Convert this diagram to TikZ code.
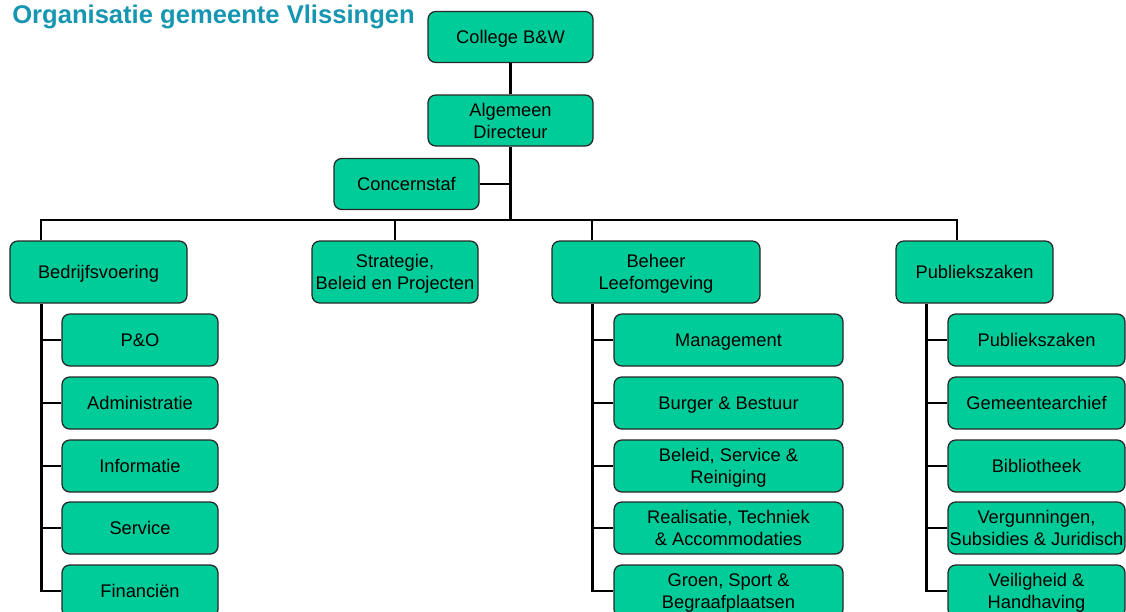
\documentclass[tikz,border=0pt]{standalone}
\usepackage{fontspec}
\setmainfont{Liberation Sans}
\usetikzlibrary{calc}
\definecolor{boxgreen}{RGB}{0,204,153}
\definecolor{titleteal}{RGB}{22,150,176}
\def\pxu{0.025cm}
\tikzset{
	unit/.style={draw=black!85, fill=boxgreen, rounded corners=5.5pt, line width=0.9pt, align=center, inner sep=0pt, font=\fontsize{13}{15.6}\selectfont},
	oneline/.style={text height=9.3pt, text depth=0pt},
	twoline/.style={text depth=0pt},
	bossbox/.style={unit, minimum width=165*\pxu, minimum height=51*\pxu},
	deptbox/.style={unit, minimum height=62*\pxu},
	subbox/.style={unit, minimum height=52*\pxu},
	link/.style={line width=1.5pt},
	spine/.style={line width=1.9pt}
}

\begin{document}
\begin{tikzpicture}[x=0.025cm, y=-0.025cm]
		%%%%% START %%%%%
		\useasboundingbox (0, 0) rectangle (1126, 612);
		
		\node[anchor=base west, inner sep=0pt, text=titleteal, font=\fontsize{18.2}{22}\selectfont\bfseries] (title) at (12, 23.3) {Organisatie gemeente Vlissingen};
		
		% top
		\node[bossbox, oneline] (college) at (510.5, 37) {College B\&W};
		\node[bossbox, twoline] (directeur) at (510.5, 120.5) {Algemeen\\Directeur};
		\node[unit, oneline, minimum width=145*\pxu, minimum height=51*\pxu] (staf) at (406.5, 184) {Concernstaf};
		
		% afdelingen
		\node[deptbox, oneline, minimum width=177*\pxu] (bedrijf) at (98.5, 272) {Bedrijfsvoering};
		\node[deptbox, twoline, minimum width=166*\pxu] (strategie) at (395, 272) {Strategie,\\Beleid en Projecten};
		\node[deptbox, twoline, minimum width=208*\pxu] (beheer) at (656, 272) {Beheer\\Leefomgeving};
		\node[deptbox, oneline, minimum width=157*\pxu] (publiek) at (974.5, 272) {Publiekszaken};
		
		% Bedrijfsvoering
		\node[subbox, oneline, minimum width=156*\pxu] (po) at (140, 340) {P\&O};
		\node[subbox, oneline, minimum width=156*\pxu] (adm) at (140, 403) {Administratie};
		\node[subbox, oneline, minimum width=156*\pxu] (inf) at (140, 466) {Informatie};
		\node[subbox, oneline, minimum width=156*\pxu] (serv) at (140, 528) {Service};
		\node[subbox, oneline, minimum width=156*\pxu] (fin) at (140, 591) {Financiën};
		
		% Beheer Leefomgeving
		\node[subbox, oneline, minimum width=229*\pxu] (man) at (728.5, 340) {Management};
		\node[subbox, oneline, minimum width=229*\pxu] (burg) at (728.5, 403) {Burger \& Bestuur};
		\node[subbox, twoline, minimum width=229*\pxu] (rein) at (728.5, 466) {Beleid, Service \&\\Reiniging};
		\node[subbox, twoline, minimum width=229*\pxu] (real) at (728.5, 528) {Realisatie, Techniek\\\& Accommodaties};
		\node[subbox, twoline, minimum width=229*\pxu] (groen) at (728.5, 591) {Groen, Sport \&\\Begraafplaatsen};
		
		% Publiekszaken
		\node[subbox, oneline, minimum width=177*\pxu] (pz) at (1036.5, 340) {Publiekszaken};
		\node[subbox, oneline, minimum width=177*\pxu] (arch) at (1036.5, 403) {Gemeentearchief};
		\node[subbox, oneline, minimum width=177*\pxu] (bib) at (1036.5, 466) {Bibliotheek};
		\node[subbox, twoline, minimum width=177*\pxu] (verg) at (1036.5, 528) {Vergunningen,\\Subsidies \& Juridisch};
		\node[subbox, twoline, minimum width=177*\pxu] (veil) at (1036.5, 591) {Veiligheid \&\\Handhaving};
		
		% lijnen
		\coordinate (bus) at (510.5, 220);
		\coordinate (bvdrop) at ($(bedrijf.north west)+(32, 0)$);
		\coordinate (bhdrop) at ($(beheer.north west)+(41, 0)$);
		\coordinate (pzdrop) at ($(publiek.north west)+(62, 0)$);
		\draw[link] (college.south) -- (directeur.north);
		\draw[link] (directeur.south) -- (directeur.south |- bus);
		\draw[link] (staf.east) -- (staf.east -| directeur.south);
		\draw[link] (bvdrop) |- (bus) -| (pzdrop);
		\draw[link] (strategie.north) -- (strategie.north |- bus);
		\draw[link] (bhdrop) -- (bhdrop |- bus);
		
		\coordinate (bvspine) at ($(bedrijf.south west)+(32, 0)$);
		\coordinate (bhspine) at ($(beheer.south west)+(41, 0)$);
		\coordinate (pzspine) at ($(publiek.south west)+(31, 0)$);
		\draw[spine] (bvspine) |- (fin.west);
		\draw[spine] (bhspine) |- (groen.west);
		\draw[spine] (pzspine) |- (veil.west);
		\foreach \s in {po, adm, inf, serv}
			\draw[spine] (bvspine |- \s.west) -- (\s.west);
		\foreach \s in {man, burg, rein, real}
			\draw[spine] (bhspine |- \s.west) -- (\s.west);
		\foreach \s in {pz, arch, bib, verg}
			\draw[spine] (pzspine |- \s.west) -- (\s.west);
		%%%%% END %%%%%
	\end{tikzpicture}
\end{document}
